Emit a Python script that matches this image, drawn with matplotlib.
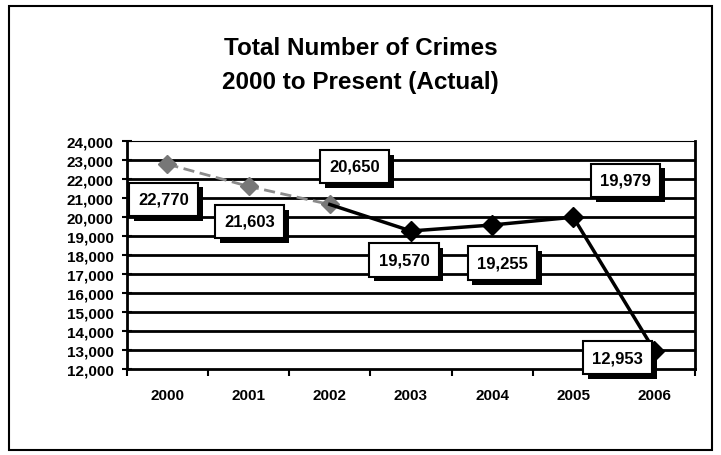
import numpy as np
import matplotlib
matplotlib.use("Agg")
import matplotlib.pyplot as plt
import matplotlib.patheffects as pe
from matplotlib.patches import Rectangle

plt.rcParams['font.family'] = ['Liberation Sans', 'DejaVu Sans']

years = ['2000', '2001', '2002', '2003', '2004', '2005', '2006']
crimes = [22770, 21603, 20650, 19255, 19570, 19979, 12953]
# labels as printed on the chart (2003/2004 appear swapped in the source)
label_text = ['22,770', '21,603', '20,650', '19,570', '19,255', '19,979', '12,953']
# label offsets from each point, in pixels (x right, y up)
label_off = [(-4, -35), (1, -35), (25, 38), (-7, -29), (10, -38), (52, 37), (-37, -7)]

fig = plt.figure(figsize=(7.21, 4.56), dpi=100)
ax = fig.add_axes([0.176, 0.189, 0.788, 0.500])

x = np.arange(len(years))

# outer frame
fig.patches.append(Rectangle((0.012, 0.01), 0.976, 0.975, transform=fig.transFigure,
                             fill=False, edgecolor='black', linewidth=1.5))

ax.set_xlim(-0.5, len(years) - 0.5)
ax.set_ylim(12000, 24000)
ax.set_yticks(np.arange(12000, 24001, 1000))
ax.set_yticklabels(['{:,}'.format(v) for v in range(12000, 24001, 1000)],
                   fontsize=11, fontweight='bold')
ax.set_xticks(np.arange(-0.5, len(years), 1.0))
ax.set_xticklabels([])
ax.set_xticks(x, minor=True)
ax.set_xticklabels(years, minor=True, fontsize=11, fontweight='bold')
ax.tick_params(axis='x', which='minor', length=0, pad=14)
ax.tick_params(axis='x', which='major', length=5, width=1.5, direction='out')
ax.tick_params(axis='y', length=7, width=1.5, direction='inout', pad=6)

for v in range(13000, 24000, 1000):
    ax.axhline(v, color='black', linewidth=2.0, zorder=1)
for s in ['left', 'bottom', 'right']:
    ax.spines[s].set_linewidth(2.0)
ax.spines['top'].set_linewidth(0.8)

# faded first part of the line, solid black for the rest
ax.plot(x[:3], crimes[:3], color='#8a8a8a', linewidth=2, linestyle=(0, (4, 2)),
        marker='D', markersize=9, markerfacecolor='#777777', markeredgecolor='#777777', zorder=3)
ax.plot(x[2:], crimes[2:], color='black', linewidth=2.5,
        marker='D', markersize=10, markerfacecolor='black', markeredgecolor='black',
        markevery=[1, 2, 3, 4], zorder=3)

for i in range(len(years)):
    t = ax.annotate(label_text[i], (x[i], crimes[i]), xytext=label_off[i],
                    textcoords='offset pixels', ha='center', va='center',
                    fontsize=12, fontweight='bold', zorder=5,
                    bbox=dict(boxstyle='square,pad=0.55', facecolor='white',
                              edgecolor='black', linewidth=1.5))
    t.get_bbox_patch().set_path_effects([
        pe.SimplePatchShadow(offset=(3.5, -3.5), shadow_rgbFace='black', alpha=1.0),
        pe.Normal()])

fig.text(0.5, 0.893, 'Total Number of Crimes', ha='center', va='center',
         fontsize=17.5, fontweight='bold')
fig.text(0.5, 0.818, '2000 to Present (Actual)', ha='center', va='center',
         fontsize=17.5, fontweight='bold')

fig.savefig('out.png', dpi=100)
